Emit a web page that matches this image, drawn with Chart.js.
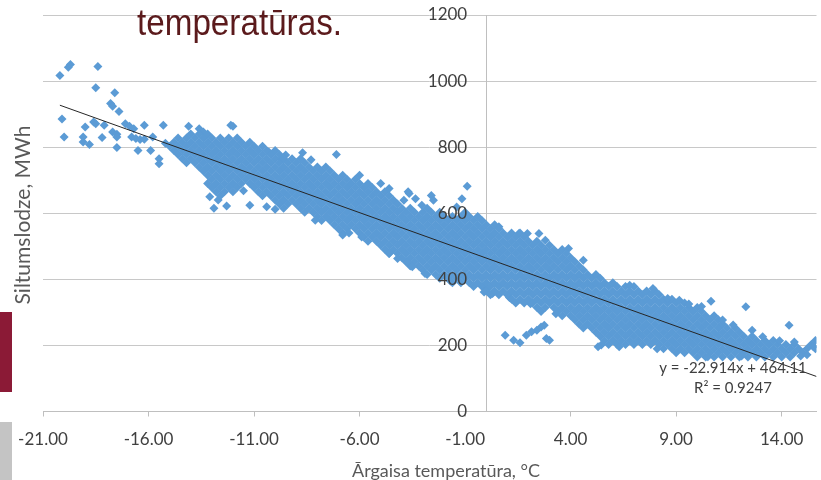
<!DOCTYPE html>
<html>
<head>
<meta charset="utf-8">
<script src="https://cdn.jsdelivr.net/npm/chart.js@4/dist/chart.umd.min.js"></script>
<style>
  html, body { margin: 0; padding: 0; background: #fff; }
</style>
</head>
<body>
<canvas id="scatter" width="821" height="480"></canvas>
<script>
// x ticks (°C) and y ticks (MWh)
const tempTicks = [-21, -16, -11, -6, -1, 4, 9, 14];
const loadTicks = [0, 200, 400, 600, 800, 1000, 1200];

// scattered points [temp, load]
const coldOutliers = [
  [-20.2, 1017], [-19.8, 1042], [-19.7, 1050], [-18.4, 1044], [-18.5, 980], [-17.6, 965],
  [-17.8, 932], [-17.7, 924], [-17.4, 908], [-20.1, 885], [-20.0, 831], [-19.0, 861],
  [-19.1, 831], [-19.1, 816], [-18.8, 808], [-18.6, 876], [-18.5, 871], [-18.1, 866],
  [-18.2, 829], [-17.7, 846], [-17.5, 839], [-17.5, 831], [-17.5, 799], [-17.1, 871],
  [-16.9, 863], [-16.7, 856], [-16.8, 831], [-16.6, 826], [-16.4, 823], [-16.5, 790],
  [-16.2, 866], [-16.2, 824], [-15.8, 831], [-15.9, 790], [-15.5, 765], [-15.5, 750],
  [-15.3, 866], [-15.2, 812], [-14.1, 863], [-13.6, 856], [-13.4, 846], [-12.0, 863],
  [-12.1, 866], [-12.9, 615], [-12.3, 622], [-13.1, 650], [-11.2, 624], [-10.4, 620],
  [-10.0, 612], [-10.3, 785], [-9.7, 765], [-8.7, 783], [-7.1, 778], [-11.5, 668],
  [-12.7, 640], [-9.5, 776], [-8.3, 762]
];

const midOutliers = [
  [-6.0, 715], [-5.0, 690], [-4.6, 675], [-3.7, 665], [-8.1, 579], [-6.8, 534],
  [-6.5, 540], [-5.9, 528], [-4.6, 478], [-4.2, 463], [-3.75, 453], [-3.5, 438],
  [-3.9, 639], [-3.65, 660], [-3.35, 644], [-3.05, 624], [-2.6, 654], [-2.5, 639],
  [-0.9, 682], [-1.15, 644], [-1.4, 619], [0.6, 559], [1.55, 539], [1.95, 539],
  [2.5, 539], [2.8, 518], [3.9, 493], [4.6, 458], [0.05, 372], [-0.1, 362],
  [-2.9, 418], [-1.7, 395], [0.3, 357], [1.1, 345], [2.1, 326], [3.3, 296]
];

const lowCluster = [
  [0.9, 231], [1.3, 216], [1.6, 208], [1.9, 231], [2.15, 241], [2.4, 246],
  [2.6, 256], [2.75, 261], [2.85, 221], [3.0, 216], [5.45, 201]
];

const warmOutliers = [
  [6.8, 382], [8.6, 342], [9.15, 337], [10.65, 334], [12.3, 317], [14.35, 261],
  [11.2, 277], [12.6, 246], [15.5, 196], [15.6, 215], [5.3, 196], [6.3, 196],
  [14.9, 168], [15.2, 172], [9.6, 325], [10.2, 318], [11.7, 262], [13.1, 226],
  [13.9, 214], [14.6, 210], [7.9, 372], [8.1, 190], [10.5, 166], [12.1, 168]
];

// dense band: [temp, load, load, ...]
const bandCold = [
  [-15.0, 803],
  [-14.8, 790, 815],
  [-14.6, 778, 803, 828],
  [-14.4, 765, 790, 815],
  [-14.2, 753, 778, 803, 828],
  [-14.0, 765, 790, 815, 840],
  [-13.8, 753, 778, 803, 828],
  [-13.6, 740, 765, 790, 815, 840],
  [-13.4, 728, 753, 778, 803, 828],
  [-13.2, 690, 715, 740, 765, 790, 815, 840],
  [-13.0, 678, 703, 728, 753, 778, 803, 828],
  [-12.8, 665, 690, 715, 740, 765, 790, 815],
  [-12.6, 653, 678, 703, 728, 753, 778, 803, 828],
  [-12.4, 665, 690, 715, 740, 765, 790, 815],
  [-12.2, 678, 703, 728, 753, 778, 803, 828],
  [-12.0, 665, 690, 715, 740, 765, 790, 815],
  [-11.8, 678, 703, 728, 753, 778, 803, 828],
  [-11.6, 690, 715, 740, 765, 790, 815],
  [-11.4, 703, 728, 753, 778, 803],
  [-11.2, 690, 715, 740, 765, 790, 815],
  [-11.0, 678, 703, 728, 753, 778, 803],
  [-10.8, 665, 690, 715, 740, 765, 790],
  [-10.6, 653, 678, 703, 728, 753, 778, 803],
  [-10.4, 665, 690, 715, 740, 765, 790],
  [-10.2, 653, 678, 703, 728, 753, 778],
  [-10.0, 640, 665, 690, 715, 740, 765, 790]
];

const bandMid = [
  [-9.8, 628, 653, 678, 703, 728, 753, 778],
  [-9.6, 615, 640, 665, 690, 715, 740, 765],
  [-9.4, 628, 653, 678, 703, 728, 753],
  [-9.2, 640, 665, 690, 715, 740, 765],
  [-9.0, 628, 653, 678, 703, 728, 753],
  [-8.8, 615, 640, 665, 690, 715, 740, 765],
  [-8.6, 603, 628, 653, 678, 703, 728, 753],
  [-8.4, 615, 640, 665, 690, 715, 740],
  [-8.2, 603, 628, 653, 678, 703, 728],
  [-8.0, 590, 615, 640, 665, 690, 715, 740],
  [-7.8, 578, 603, 628, 653, 678, 703, 728],
  [-7.6, 590, 615, 640, 665, 690, 715, 740],
  [-7.4, 578, 603, 628, 653, 678, 703, 728],
  [-7.2, 565, 590, 615, 640, 665, 690, 715],
  [-7.0, 553, 578, 603, 628, 653, 678, 703],
  [-6.8, 540, 565, 590, 615, 640, 665, 690, 715],
  [-6.6, 553, 578, 603, 628, 653, 678, 703],
  [-6.4, 565, 590, 615, 640, 665, 690],
  [-6.2, 553, 578, 603, 628, 653, 678, 703],
  [-6.0, 540, 565, 590, 615, 640, 665, 690],
  [-5.8, 528, 553, 578, 603, 628, 653, 678],
  [-5.6, 515, 540, 565, 590, 615, 640, 665, 690],
  [-5.4, 528, 553, 578, 603, 628, 653, 678],
  [-5.2, 515, 540, 565, 590, 615, 640, 665],
  [-5.0, 503, 528, 553, 578, 603, 628, 653],
  [-4.8, 490, 515, 540, 565, 590, 615, 640, 665],
  [-4.6, 478, 503, 528, 553, 578, 603, 628, 653],
  [-4.4, 490, 515, 540, 565, 590, 615, 640],
  [-4.2, 478, 503, 528, 553, 578, 603, 628],
  [-4.0, 465, 490, 515, 540, 565, 590, 615],
  [-3.8, 453, 478, 503, 528, 553, 578, 603],
  [-3.6, 440, 465, 490, 515, 540, 565, 590, 615],
  [-3.4, 453, 478, 503, 528, 553, 578, 603],
  [-3.2, 440, 465, 490, 515, 540, 565, 590],
  [-3.0, 428, 453, 478, 503, 528, 553, 578, 603],
  [-2.8, 415, 440, 465, 490, 515, 540, 565, 590, 615],
  [-2.6, 428, 453, 478, 503, 528, 553, 578, 603],
  [-2.4, 415, 440, 465, 490, 515, 540, 565, 590],
  [-2.2, 403, 428, 453, 478, 503, 528, 553, 578, 603],
  [-2.0, 415, 440, 465, 490, 515, 540, 565, 590],
  [-1.8, 403, 428, 453, 478, 503, 528, 553, 578],
  [-1.6, 390, 415, 440, 465, 490, 515, 540, 565, 590],
  [-1.4, 403, 428, 453, 478, 503, 528, 553, 578],
  [-1.2, 390, 415, 440, 465, 490, 515, 540, 565, 590],
  [-1.0, 403, 428, 453, 478, 503, 528, 553, 578, 603],
  [-0.8, 390, 415, 440, 465, 490, 515, 540, 565, 590],
  [-0.6, 378, 403, 428, 453, 478, 503, 528, 553, 578],
  [-0.4, 390, 415, 440, 465, 490, 515, 540, 565, 590],
  [-0.2, 378, 403, 428, 453, 478, 503, 528, 553, 578]
];

const bandWarm = [
  [0.0, 365, 390, 415, 440, 465, 490, 515, 540, 565],
  [0.2, 353, 378, 403, 428, 453, 478, 503, 528, 553],
  [0.4, 365, 390, 415, 440, 465, 490, 515, 540, 565],
  [0.6, 353, 378, 403, 428, 453, 478, 503, 528, 553],
  [0.8, 365, 390, 415, 440, 465, 490, 515, 540],
  [1.0, 353, 378, 403, 428, 453, 478, 503, 528],
  [1.2, 340, 365, 390, 415, 440, 465, 490, 515, 540],
  [1.4, 328, 353, 378, 403, 428, 453, 478, 503, 528],
  [1.6, 340, 365, 390, 415, 440, 465, 490, 515, 540],
  [1.8, 328, 353, 378, 403, 428, 453, 478, 503, 528],
  [2.0, 340, 365, 390, 415, 440, 465, 490, 515],
  [2.2, 328, 353, 378, 403, 428, 453, 478, 503],
  [2.4, 315, 340, 365, 390, 415, 440, 465, 490, 515],
  [2.6, 303, 328, 353, 378, 403, 428, 453, 478, 503],
  [2.8, 315, 340, 365, 390, 415, 440, 465, 490],
  [3.0, 328, 353, 378, 403, 428, 453, 478, 503],
  [3.2, 315, 340, 365, 390, 415, 440, 465, 490],
  [3.4, 303, 328, 353, 378, 403, 428, 453, 478],
  [3.6, 290, 315, 340, 365, 390, 415, 440, 465, 490],
  [3.8, 303, 328, 353, 378, 403, 428, 453, 478],
  [4.0, 290, 315, 340, 365, 390, 415, 440, 465],
  [4.2, 278, 303, 328, 353, 378, 403, 428, 453],
  [4.4, 265, 290, 315, 340, 365, 390, 415, 440],
  [4.6, 253, 278, 303, 328, 353, 378, 403, 428],
  [4.8, 265, 290, 315, 340, 365, 390, 415],
  [5.0, 253, 278, 303, 328, 353, 378, 403],
  [5.2, 240, 265, 290, 315, 340, 365, 390, 415],
  [5.4, 228, 253, 278, 303, 328, 353, 378, 403],
  [5.6, 215, 240, 265, 290, 315, 340, 365, 390],
  [5.8, 203, 228, 253, 278, 303, 328, 353, 378],
  [6.0, 215, 240, 265, 290, 315, 340, 365, 390],
  [6.2, 203, 228, 253, 278, 303, 328, 353, 378],
  [6.4, 215, 240, 265, 290, 315, 340, 365],
  [6.6, 203, 228, 253, 278, 303, 328, 353, 378],
  [6.8, 215, 240, 265, 290, 315, 340, 365],
  [7.0, 203, 228, 253, 278, 303, 328, 353, 378],
  [7.2, 215, 240, 265, 290, 315, 340, 365],
  [7.4, 203, 228, 253, 278, 303, 328, 353],
  [7.6, 215, 240, 265, 290, 315, 340, 365],
  [7.8, 203, 228, 253, 278, 303, 328, 353],
  [8.0, 215, 240, 265, 290, 315, 340, 365],
  [8.2, 203, 228, 253, 278, 303, 328, 353],
  [8.4, 190, 215, 240, 265, 290, 315, 340],
  [8.6, 203, 228, 253, 278, 303, 328],
  [8.8, 190, 215, 240, 265, 290, 315, 340],
  [9.0, 178, 203, 228, 253, 278, 303, 328],
  [9.2, 190, 215, 240, 265, 290, 315],
  [9.4, 178, 203, 228, 253, 278, 303, 328],
  [9.6, 190, 215, 240, 265, 290, 315],
  [9.8, 178, 203, 228, 253, 278, 303],
  [10.0, 165, 190, 215, 240, 265, 290, 315],
  [10.2, 178, 203, 228, 253, 278, 303],
  [10.4, 165, 190, 215, 240, 265, 290],
  [10.6, 178, 203, 228, 253, 278],
  [10.8, 165, 190, 215, 240, 265, 290],
  [11.0, 178, 203, 228, 253, 278],
  [11.2, 165, 190, 215, 240, 265],
  [11.4, 178, 203, 228, 253],
  [11.6, 165, 190, 215, 240],
  [11.8, 178, 203, 228, 253],
  [12.0, 165, 190, 215, 240],
  [12.2, 178, 203, 228],
  [12.4, 165, 190, 215],
  [12.6, 178, 203, 228],
  [12.8, 165, 190, 215],
  [13.0, 178, 203],
  [13.2, 165, 190, 215],
  [13.4, 178, 203],
  [13.6, 165, 190, 215],
  [13.8, 178, 203],
  [14.0, 165, 190],
  [14.2, 178, 203],
  [14.4, 165, 190],
  [14.6, 178, 203],
  [14.8, 190],
  [15.0, 178],
  [15.2, 190],
  [15.4, 203],
  [15.6, 190]
];

// linear trend as drawn on the chart (end points)
const trendLine = [[-20.2, 927], [15.65, 106]];
const trendLabel = ["y = -22.914x + 464.11", "R\u00B2 = 0.9247"];

const FONT = "Lato, 'Open Sans', 'Liberation Sans', sans-serif";

const pairs = (list) => list.map(([x, y]) => ({ x, y }));
const columns = (list) => list.flatMap(([x, ...ys]) => ys.map(y => ({ x, y })));

const scatterPoints = [
  ...pairs(coldOutliers), ...columns(bandCold), ...columns(bandMid), ...pairs(midOutliers),
  ...columns(bandWarm), ...pairs(lowCluster), ...pairs(warmOutliers)
];

const slide = {
  id: "slide",
  beforeDraw(chart) {
    const c = chart.ctx;
    c.save();
    c.fillStyle = "#fff";
    c.fillRect(0, 0, chart.width, chart.height);
    c.fillStyle = "#8b1a36";
    c.fillRect(0, 312, 12, 80);
    c.fillStyle = "#c4c4c4";
    c.fillRect(0, 422, 12, 58);
    c.restore();
  },
  afterDraw(chart) {
    const c = chart.ctx;
    const xs = chart.scales.x;
    const ys = chart.scales.y;

    // y tick labels, left of the axis at x = 0, over the points like Excel
    c.save();
    c.font = "17px " + FONT;
    c.fillStyle = "#404040";
    c.textAlign = "right";
    c.textBaseline = "middle";
    const axisX = xs.getPixelForValue(0);
    loadTicks.forEach(v => c.fillText(String(v), axisX - 19, ys.getPixelForValue(v)));
    c.restore();

    // slide heading, condensed
    c.save();
    c.font = "36px 'Liberation Sans Narrow', 'Liberation Sans', sans-serif";
    c.fillStyle = "#5b1a1c";
    c.textBaseline = "alphabetic";
    c.textAlign = "left";
    const w = c.measureText("temperatūras.").width;
    c.translate(137, 35);
    c.scale(205 / w, 1);
    c.fillText("temperatūras.", 0, 0);
    c.restore();

    // axis titles
    c.save();
    c.font = "21px " + FONT;
    c.fillStyle = "#595959";
    c.textAlign = "center";
    c.textBaseline = "middle";
    c.translate(23, 215);
    c.rotate(-Math.PI / 2);
    c.fillText("Siltumslodze, MWh", 0, 0);
    c.restore();

    c.save();
    c.font = "18px " + FONT;
    c.fillStyle = "#595959";
    c.textAlign = "center";
    c.textBaseline = "alphabetic";
    c.fillText("Ārgaisa temperatūra, °C", 446, 477);
    c.restore();

    // trendline label
    c.save();
    c.font = "15px " + FONT;
    c.fillStyle = "#404040";
    c.textAlign = "center";
    c.textBaseline = "middle";
    c.fillText(trendLabel[0], 733, 368);
    c.fillText(trendLabel[1], 733, 388);
    c.restore();
  }
};

new Chart(document.getElementById("scatter").getContext("2d"), {
  type: "scatter",
  data: {
    datasets: [
      {
        label: "trend",
        data: pairs(trendLine),
        showLine: true,
        borderColor: "#262626",
        borderWidth: 1,
        pointRadius: 0
      },
      {
        label: "Siltumslodze",
        data: scatterPoints,
        pointStyle: "rectRot",
        pointRadius: 4.5,
        backgroundColor: "#5b9bd5",
        borderWidth: 0
      }
    ]
  },
  options: {
    responsive: false,
    animation: false,
    devicePixelRatio: 1,
    layout: { padding: { left: 43, right: 0, top: 15, bottom: 0 } },
    plugins: { legend: { display: false }, tooltip: { enabled: false } },
    scales: {
      x: {
        type: "linear",
        min: -21,
        max: 15.65,
        afterBuildTicks: (s) => { s.ticks = tempTicks.map(v => ({ value: v })); },
        afterFit: (s) => { s.height = 68.5; },
        ticks: {
          autoSkip: false,
          maxRotation: 0,
          padding: 13,
          color: "#404040",
          font: { family: FONT, size: 17 },
          callback: (v) => Number(v).toFixed(2)
        },
        grid: { drawOnChartArea: false, drawTicks: true, tickLength: 5, color: "#bfbfbf" },
        border: { color: "#bfbfbf" }
      },
      y: {
        type: "linear",
        position: { x: 0 },
        min: loadTicks[0],
        max: loadTicks[loadTicks.length - 1],
        afterBuildTicks: (s) => { s.ticks = loadTicks.map(v => ({ value: v })); },
        ticks: { display: false },
        grid: { drawTicks: false, color: "#c8c8c8" },
        border: { color: "#bfbfbf" }
      }
    }
  },
  plugins: [slide]
});
</script>
</body>
</html>
